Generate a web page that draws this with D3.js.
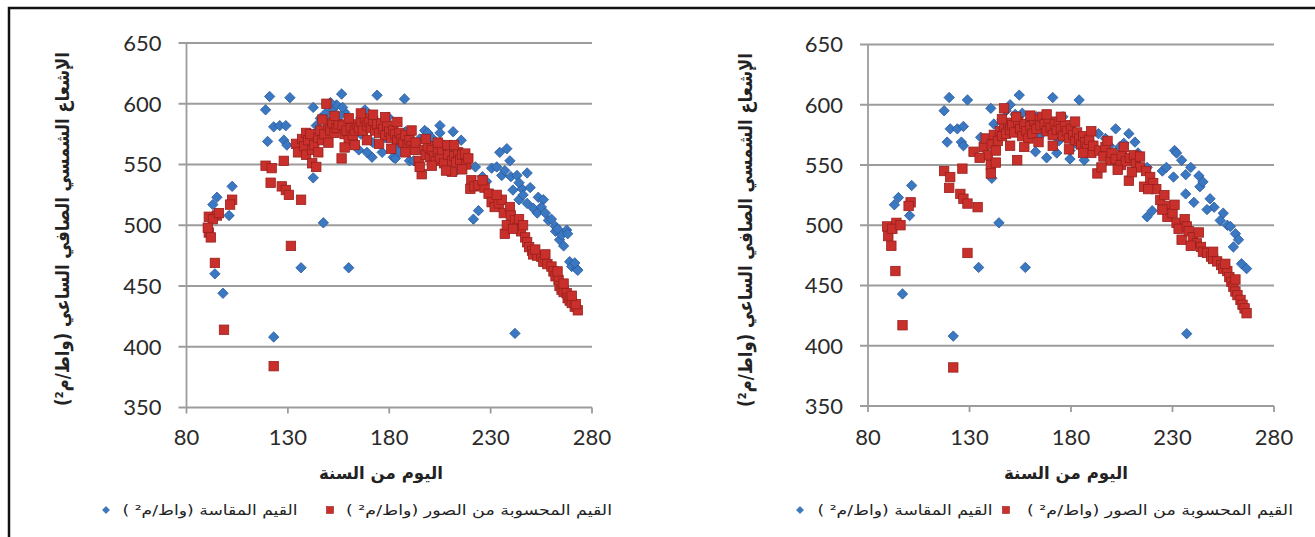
<!DOCTYPE html>
<html>
<head>
<meta charset="utf-8">
<script src="https://cdn.jsdelivr.net/npm/d3@7"></script>
<style>
body { margin: 0; background: #fff; }
svg { display: block; }
</style>
</head>
<body>
<svg id="chart"></svg>
<script>
/* two scatter panels: measured (diamonds) and image-derived (squares) clear-sky hourly net radiation */

var x_ticks = [80, 130, 180, 230, 280];
var y_ticks = [350, 400, 450, 500, 550, 600, 650];

var y_title = "الإشعاع الشمسي الصافي الساعي (واط/م²)";
var x_title = "اليوم من السنة";
var measured_label = "القيم المقاسة (واط/م² )";
var computed_label = "القيم المحسوبة من الصور (واط/م² )";

// [day, W/m2]
var left_measured = [
	[93,517],[95,523],[94,460],[98,444],[101,508],[102.5,532],
	[119,595],[121,606],[131,605],[123,581],[126,582],[129,582],[120,569],[128,570],[129.5,566],
	[123,408],[136.5,465],[147.5,502],[160,465],[142.5,539],[142.5,597],
	[148.5,592],[152,595],[154,599],[156.5,608],[158,593],[155,589],[150,586],[146,588],
	[162,570],[165,562],[166,575],[168,595],[171.5,556],[172,568],[174,607],[176.5,560],[178,572],
	[179.5,589],[182,556],[184,570],[187.5,604],[182,564],[183,555],[190,553],[186,566],[188,577],
	[192,553],[195,571],[197.5,578],[199,576],[200,565],[203,560],[205,582],[205,576],[211.5,577],
	[215.5,570],[208.5,545],[212.5,544],[222.5,548],[224,512],[221.5,505],[226,540],[228,536],
	[230.5,547],[233,548],[234.5,560],[238,563],[239.5,553],[235.5,541],[237,545],[240,540],
	[243,541],[248,543],[241,529],[245.5,530],[249.5,531],[244,535],[244,521],[246,525],[248,518],
	[253.5,523],[256,521],[251,514],[253,510],[255,515],[257,510],[258.5,504],[260,505],[262,499],
	[262,495],[264,488],[267.5,496],[265,492],[266,483],[263,497],[268,493],[269,470],[270,466],
	[272.5,464],[273,463],[271.5,469],[242,411],
	[144,582],[151,601],[157,597],[161,582],[169,560],[180,580],[185,560],[193,566],[201,572],[207,566]
];

var left_computed = [
	[91,507],[95,508],[91,494],[92,490],[102.5,521],[101.5,517],[94,469],[98.5,414],[123,384],
	[131.5,483],[119,549],[122,547],[128,553],[121.5,535],[127,532],[129,529],[130.5,525],[136.5,521],
	[93,505],[96,510],[90.5,498],[134,567],[137,571],[135,560],[139,576],
	[149,600],[138,565],[140,570],[139,558],[141,575],[142,562],[142,551],[144,548],[143,566],
	[145,572],[146,578],[147,570],[148,575],[150,582],[151,578],[152,584],[153,576],[154,580],
	[155,583],[156.5,555],[157,582],[158,575],[159,578],[160,570],[161,580],[162,574],[163,578],
	[164,583],[165,580],[166,585],[167,578],[168,588],[169,582],[170,585],[171,580],[172,586],
	[173,578],[174,583],[175,576],[176,584],[177,579],[178,574],[179,582],[180,577],[181,572],
	[182,578],[183,575],[184,570],[185,576],[186,571],[187,568],[188,574],[189,566],[190,570],
	[191,565],[192,562],[193,568],[194.5,553],[196,542],[197,562],[198,558],[199,565],[200,556],
	[201,562],[202,557],[203,553],[204,560],[205,555],[206,562],[207,551],[208.5,566],[209,558],
	[211,553],[211,544],[212,557],[213,552],[214,560],[215,554],[216,558],[217.5,559],[218,550],
	[220.5,537],[220,530],[222,532],[224,533],[227,531],[229,526],[230.5,519],[232,515],[234,518],
	[235.5,521],[236.5,510],[237,493],[238,500],[239.5,515],[240,508],[242,504],[243,498],[244,505],
	[245,495],[247,490],[248,486],[249,482],[250.5,479],[251,476],[253,475],[255,474],[256,470],
	[258,468],[260,466],[261,462],[262,458],[263.5,455],[264,450],[265,447],[266,445],[267.5,444],
	[268,440],[269,438],[270,436],[271.5,433],[273,430],[272,435],
	[145,560],[147,587],[150,568],[153,590],[158,564],[160,588],[163,566],[166,592],[169,570],
	[172,591],[175,567],[178,589],[181,563],[184,585],[188,560],[191,578],[195,548],[198,571],
	[201,549],[204,568],[208,545],[212,566],[216,546],[219,555],[226,537],[233,525],[241,497],
	[246,500],[252,480],[257,476],[263,462],[266,452],[270,442]
];

// [day, W/m2]
var right_measured = [
	[93,517],[95,523],[100.5,508],[101.5,533],[97,443],[117.5,595],[120,606],[129,604],[120.5,580],
	[124,580],[127,582],[119,569],[126,569],[127,566],[122,408],[134.5,465],[144.5,502],[157.5,465],
	[141,539],[140.5,597],[135.5,573],[146,588],[150,600],[152.5,592],[142,584],[154.5,608],[156,593],
	[162.5,561],[165,575],[168,556],[171,606],[173,560],[174,570],[178,578],[179.5,555],[179.5,562],
	[184,604],[186.5,554],[189,570],[193.5,576],[197,572],[202,580],[204,565],[206,568],[208.5,576],
	[211.5,569],[217.5,548],[217.5,507],[220,512],[225,545],[227,548],[231,562],[232,560],[234.5,554],
	[230.5,540],[236.5,542],[239,548],[243,541],[236.5,526],[243.5,532],[240.5,519],[245,536],
	[248.5,522],[250.5,515],[247,513],[253.5,504],[255,510],[257,500],[258.5,499],[261,493],
	[262.5,488],[260,482],[264,468],[266.5,464],[237,410],
	[148,595],[158,585],[163,590],[176,590],[182,568],[191,562],[199,566],[213,560]
];

var right_computed = [
	[89.5,499],[94,502],[90,491],[91.5,483],[101,519],[100,516],[93.5,462],[97,417],[122,382],
	[129,477],[117.5,545],[120.5,540],[126.5,547],[120,531],[125.5,526],[127,522],[129,518],[134,515],
	[92,497],[96,500],
	[132,561],[137,565],[140.5,550],[140.5,543],[147,597],[153.5,554],[138,572],[139,558],[141,567],
	[142,575],[143,562],[144,570],[145,578],[146,574],[147,582],[148,576],[149,585],[150,579],
	[151,583],[152,577],[154,586],[155,580],[156,574],[157,584],[158,578],[159,572],[160,582],
	[161,576],[162,586],[163,580],[164,588],[165,583],[166,590],[167,584],[168,578],[169,586],
	[170,581],[171,575],[172,584],[173,579],[174,586],[175,580],[176,574],[177,583],[178,578],
	[179,572],[180,580],[181,575],[182,570],[183,577],[184,572],[185,567],[186,574],[187,569],
	[188,565],[189,571],[190,560],[191,566],[193,543],[194,562],[196,557],[197,565],[199.5,554],
	[200,560],[202,555],[204.5,550],[205,558],[207,553],[208.5,537],[209,556],[211,558],[212,551],
	[214,548],[216,532],[217,545],[219,540],[220.5,535],[222,530],[224,521],[226,525],[227.5,507],
	[229,516],[230,510],[232,502],[233,497],[234.5,488],[236,505],[237,499],[238,495],[240,490],
	[242,485],[244,482],[245,478],[247,477],[249,474],[250,472],[252,470],[254,467],[255,464],
	[257,462],[258,457],[259,453],[260,449],[261,445],[262,442],[263.5,438],[264.5,434],[265.5,431],
	[266.5,427],
	[135,556],[143,552],[146,588],[150,566],[153,590],[157,565],[160,591],[164,569],[168,592],
	[171,566],[175,590],[179,563],[182,586],[186,560],[190,578],[195,548],[198,570],[203,546],
	[206,565],[210,544],[214,557],[218,530],[225,513],[231,517],[239,483],[243,494],[250,478],
	[256,468],[261,455]
];

var chart_w = 1315, chart_h = 537;
var grid_color = "#9c9c9c";
var blue_fill = "#3a78c2", blue_stroke = "#29589a";
var red_fill = "#c9302b", red_stroke = "#98201d";
var num_font = "Lato, 'Open Sans', sans-serif";
var ar_font = "'DejaVu Sans', sans-serif";

var svg = d3.select("#chart")
	.attr("width", chart_w)
	.attr("height", chart_h);

svg.append("rect")
	.attr("width", chart_w).attr("height", chart_h)
	.attr("fill", "#fff");

// outer frame (only left and top edges are visible)
svg.append("rect")
	.attr("x", 9).attr("y", 8)
	.attr("width", chart_w + 20).attr("height", chart_h + 20)
	.attr("fill", "none")
	.attr("stroke", "#111")
	.attr("stroke-width", 2.5);

function draw_panel(p, measured, computed){

	var x = d3.scaleLinear().domain([80, 280]).range([p.x0, p.x1]);
	var y = d3.scaleLinear().domain([350, 650]).range([p.y1, p.y0]);

	var g = svg.append("g");

	// horizontal grid lines (the 350 one is the x axis)
	g.append("g")
	.selectAll("line")
	.data(y_ticks)
	.enter().append("line")
	.attr("x1", p.x0 - 8)
	.attr("x2", p.x1)
	.attr("y1", function(d){ return y(d); })
	.attr("y2", function(d){ return y(d); })
	.attr("stroke", grid_color)
	.attr("stroke-width", 1.8);

	// y axis line
	g.append("line")
	.attr("x1", p.x0).attr("x2", p.x0)
	.attr("y1", y(650)).attr("y2", y(350))
	.attr("stroke", grid_color)
	.attr("stroke-width", 1.8);

	// x tick marks
	g.append("g")
	.selectAll("line")
	.data(x_ticks)
	.enter().append("line")
	.attr("x1", function(d){ return x(d); })
	.attr("x2", function(d){ return x(d); })
	.attr("y1", y(350))
	.attr("y2", y(350) + 6)
	.attr("stroke", grid_color)
	.attr("stroke-width", 1.8);

	g.append("g")
	.selectAll("text")
	.data(y_ticks)
	.enter().append("text")
	.attr("x", p.x0 - 25)
	.attr("y", function(d){ return y(d); })
	.attr("dy", "0.36em")
	.attr("text-anchor", "end")
	.attr("font-family", num_font)
	.attr("font-size", 22)
	.attr("fill", "#2b2b2b")
	.text(function(d){ return d; });

	g.append("g")
	.selectAll("text")
	.data(x_ticks)
	.enter().append("text")
	.attr("x", function(d){ return x(d); })
	.attr("y", 437)
	.attr("dy", "0.36em")
	.attr("text-anchor", "middle")
	.attr("font-family", num_font)
	.attr("font-size", 22)
	.attr("fill", "#2b2b2b")
	.text(function(d){ return d; });

	// markers: measured first, computed drawn over them
	g.append("g")
	.selectAll("path")
	.data(measured)
	.enter().append("path")
	.attr("d", "M0,-5.2L5.2,0L0,5.2L-5.2,0Z")
	.attr("transform", function(d){ return "translate(" + x(d[0]) + "," + y(d[1]) + ")"; })
	.attr("fill", blue_fill)
	.attr("stroke", blue_stroke)
	.attr("stroke-width", 0.8);

	g.append("g")
	.selectAll("rect")
	.data(computed)
	.enter().append("rect")
	.attr("x", function(d){ return x(d[0]) - 4.7; })
	.attr("y", function(d){ return y(d[1]) - 4.7; })
	.attr("width", 9.4)
	.attr("height", 9.4)
	.attr("fill", red_fill)
	.attr("stroke", red_stroke)
	.attr("stroke-width", 0.8);

	// titles
	g.append("text")
	.attr("transform", "translate(" + p.ytitle_x + "," + p.ytitle_y + ") rotate(-90)")
	.attr("dy", "0.35em")
	.attr("text-anchor", "middle")
	.attr("direction", "rtl")
	.attr("font-family", ar_font)
	.attr("font-weight", "bold")
	.attr("font-size", 19)
	.attr("fill", "#222")
	.attr("textLength", 354)
	.attr("lengthAdjust", "spacingAndGlyphs")
	.text(y_title);

	g.append("text")
	.attr("x", p.xtitle_x)
	.attr("y", 473)
	.attr("dy", "0.35em")
	.attr("text-anchor", "middle")
	.attr("direction", "rtl")
	.attr("font-family", ar_font)
	.attr("font-weight", "bold")
	.attr("font-size", 17)
	.attr("fill", "#222")
	.attr("textLength", 124)
	.attr("lengthAdjust", "spacingAndGlyphs")
	.text(x_title);

	// legend
	var ly = 510;
	g.append("path")
	.attr("d", "M0,-3.5L3.5,0L0,3.5L-3.5,0Z")
	.attr("transform", "translate(" + p.leg_diamond + "," + ly + ")")
	.attr("fill", blue_fill)
	.attr("stroke", blue_stroke)
	.attr("stroke-width", 0.6);

	g.append("rect")
	.attr("x", p.leg_square - 3.5)
	.attr("y", ly - 3.5)
	.attr("width", 7).attr("height", 7)
	.attr("fill", red_fill)
	.attr("stroke", red_stroke)
	.attr("stroke-width", 0.6);

	g.append("text")
	.attr("x", p.leg_measured)
	.attr("y", ly)
	.attr("dy", "0.35em")
	.attr("text-anchor", "middle")
	.attr("direction", "rtl")
	.attr("font-family", ar_font)
	.attr("font-size", 14)
	.attr("fill", "#222")
	.attr("textLength", 175)
	.attr("lengthAdjust", "spacingAndGlyphs")
	.text(measured_label);

	g.append("text")
	.attr("x", p.leg_computed)
	.attr("y", ly)
	.attr("dy", "0.35em")
	.attr("text-anchor", "middle")
	.attr("direction", "rtl")
	.attr("font-family", ar_font)
	.attr("font-size", 14)
	.attr("fill", "#222")
	.attr("textLength", 266)
	.attr("lengthAdjust", "spacingAndGlyphs")
	.text(computed_label);
}

draw_panel({
	x0: 186.5, x1: 592, y0: 43, y1: 407.5,
	ytitle_x: 62, ytitle_y: 229, xtitle_x: 381,
	leg_diamond: 106, leg_measured: 210, leg_square: 330, leg_computed: 479
}, left_measured, left_computed);

draw_panel({
	x0: 868, x1: 1274, y0: 44.5, y1: 406,
	ytitle_x: 745, ytitle_y: 230, xtitle_x: 1066,
	leg_diamond: 800, leg_measured: 905, leg_square: 1006, leg_computed: 1160
}, right_measured, right_computed);
</script>
</body>
</html>
